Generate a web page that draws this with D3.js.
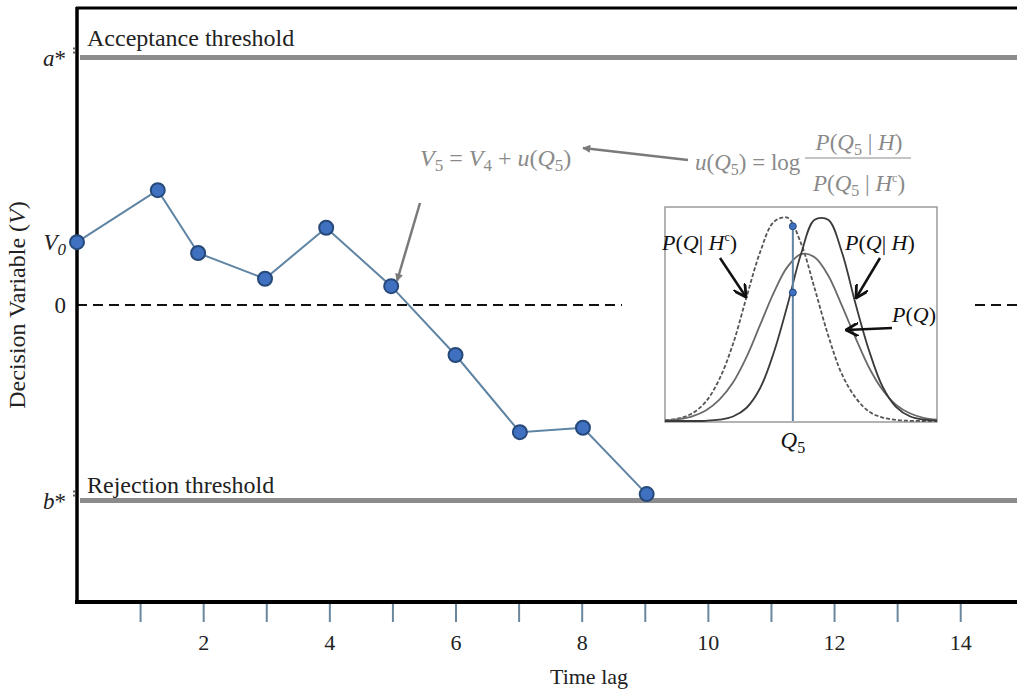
<!DOCTYPE html>
<html>
<head>
<meta charset="utf-8">
<script src="https://cdn.jsdelivr.net/npm/d3@7"></script>
<style>
  body { margin: 0; background: #fff; }
  svg text { font-family: "Liberation Serif", "DejaVu Serif", serif; }
</style>
</head>
<body>
<div id="chart"></div>
<script>
// decision variable path
var timeLag = [0, 1.28, 1.92, 2.98, 3.95, 4.98, 6.0, 7.02, 8.02, 9.03];
var decisionV = [1.27, 2.32, 1.05, 0.53, 1.56, 0.38, -1.01, -2.57, -2.48, -3.82];
var aStar = 5.0;
var bStar = -3.95;
var v0 = 1.27;
var xTicks = [1, 2, 3, 4, 5, 6, 7, 8, 9, 10, 11, 12, 13, 14];

// inset densities
var qGrid = [0, 0.5, 1, 1.5, 2, 2.5, 3, 3.5, 4, 4.5, 5, 5.5, 6, 6.5, 7, 7.5, 8, 8.5, 9, 9.5, 10];
var pQHc = [0.004, 0.012, 0.036, 0.09, 0.196, 0.36, 0.58, 0.79, 0.93, 0.95, 0.83, 0.62, 0.40, 0.22, 0.11, 0.044, 0.016, 0.005, 0.001, 0, 0];
var pQH = [0, 0, 0, 0.001, 0.006, 0.021, 0.062, 0.154, 0.32, 0.54, 0.78, 0.94, 0.94, 0.79, 0.55, 0.33, 0.16, 0.065, 0.022, 0.006, 0.002];
var pQ = [0.003, 0.009, 0.022, 0.049, 0.10, 0.18, 0.30, 0.45, 0.60, 0.72, 0.78, 0.765, 0.68, 0.54, 0.39, 0.25, 0.145, 0.075, 0.036, 0.015, 0.006];
var q5 = 4.7;
var q5Dots = [0.91, 0.60];

var W = 1017, H = 690;
var svg = d3.select("#chart").append("svg")
  .attr("width", W)
  .attr("height", H);

var defs = svg.append("defs");
defs.append("marker")
  .attr("id", "greyhead")
  .attr("viewBox", "0 0 10 10")
  .attr("refX", 9).attr("refY", 5)
  .attr("markerWidth", 10).attr("markerHeight", 8)
  .attr("markerUnits", "userSpaceOnUse")
  .attr("orient", "auto")
  .append("path").attr("d", "M0,0 L10,5 L0,10 Z").attr("fill", "#7a7a7a");
defs.append("marker")
  .attr("id", "openhead")
  .attr("viewBox", "0 0 10 10")
  .attr("refX", 9).attr("refY", 5)
  .attr("markerWidth", 14).attr("markerHeight", 14)
  .attr("markerUnits", "userSpaceOnUse")
  .attr("orient", "auto")
  .append("path").attr("d", "M0,0 L9,5 L0,10").attr("fill", "none")
  .attr("stroke", "#111").attr("stroke-width", 2);

var x = d3.scaleLinear().domain([0, 14.9]).range([77, 1017]);
var y = d3.scaleLinear().domain([-6, 6]).range([602, 8]);

// threshold lines
[aStar, bStar].forEach(function(v) {
  svg.append("line")
    .attr("x1", 80).attr("x2", W)
    .attr("y1", y(v)).attr("y2", y(v))
    .attr("stroke", "#8c8c8c").attr("stroke-width", 5);
});
svg.append("text").attr("x", 87).attr("y", y(aStar) - 12)
  .attr("font-size", 24).attr("fill", "#222").text("Acceptance threshold");
svg.append("text").attr("x", 87).attr("y", y(bStar) - 8)
  .attr("font-size", 24).attr("fill", "#222").text("Rejection threshold");

// zero line (dashed), broken by inset area
svg.append("line")
  .attr("x1", x(0)).attr("x2", 622)
  .attr("y1", y(0)).attr("y2", y(0))
  .attr("stroke", "#111").attr("stroke-width", 2)
  .attr("stroke-dasharray", "10,6");
svg.append("line")
  .attr("x1", 975).attr("x2", W)
  .attr("y1", y(0)).attr("y2", y(0))
  .attr("stroke", "#111").attr("stroke-width", 2)
  .attr("stroke-dasharray", "10,6");

// axes frame
svg.append("line").attr("x1", 77).attr("x2", 77).attr("y1", 7).attr("y2", 604)
  .attr("stroke", "#000").attr("stroke-width", 3.5);
svg.append("line").attr("x1", 76).attr("x2", W).attr("y1", 8).attr("y2", 8)
  .attr("stroke", "#000").attr("stroke-width", 3);
svg.append("line").attr("x1", 75).attr("x2", W).attr("y1", 602).attr("y2", 602)
  .attr("stroke", "#000").attr("stroke-width", 4);

// x axis ticks
var xAxis = d3.axisBottom(x)
  .tickValues(xTicks)
  .tickSize(18)
  .tickPadding(12)
  .tickFormat(function(d) { return d % 2 === 0 ? d : ""; });
var gx = svg.append("g").attr("transform", "translate(0,604)").call(xAxis);
gx.select(".domain").remove();
gx.selectAll(".tick line").attr("stroke", "#6a879e").attr("stroke-width", 2);
gx.selectAll(".tick text").attr("font-size", 22).attr("fill", "#222")
  .attr("font-family", "Liberation Serif, serif");

svg.append("text").attr("x", 589).attr("y", 684).attr("text-anchor", "middle")
  .attr("font-size", 22).attr("fill", "#222").text("Time lag");

// y label
var yl = svg.append("text")
  .attr("transform", "translate(25,305) rotate(-90)")
  .attr("text-anchor", "middle").attr("font-size", 24).attr("fill", "#222");
yl.append("tspan").text("Decision Variable (");
yl.append("tspan").attr("font-style", "italic").text("V");
yl.append("tspan").text(")");

// y tick labels
function yLab(v, parts) {
  var t = svg.append("text").attr("x", 66).attr("y", y(v) + 8)
    .attr("text-anchor", "end").attr("font-size", 23).attr("fill", "#222");
  parts.forEach(function(p) {
    var s = t.append("tspan").text(p.t);
    if (p.i) s.attr("font-style", "italic");
    if (p.sub) s.attr("font-size", 17).attr("dy", 5);
  });
}
yLab(aStar, [{t: "a", i: true}, {t: "*"}]);
yLab(v0, [{t: "V", i: true}, {t: "0", i: true, sub: true}]);
yLab(0, [{t: "0"}]);
yLab(bStar, [{t: "b", i: true}, {t: "*"}]);
[aStar, bStar].forEach(function(v) {
  svg.append("line").attr("x1", 74).attr("x2", 74).attr("y1", y(v) - 10).attr("y2", y(v) - 2)
    .attr("stroke", "#333").attr("stroke-width", 1.5).attr("stroke-dasharray", "2,2");
});

// path of decision variable
var pts = timeLag.map(function(t, i) { return [t, decisionV[i]]; });
svg.append("path")
  .datum(pts)
  .attr("fill", "none")
  .attr("stroke", "#5f84a3")
  .attr("stroke-width", 2)
  .attr("d", d3.line().x(function(d) { return x(d[0]); }).y(function(d) { return y(d[1]); }));
svg.selectAll("circle.pt").data(pts).enter().append("circle")
  .attr("class", "pt")
  .attr("cx", function(d) { return x(d[0]); })
  .attr("cy", function(d) { return y(d[1]); })
  .attr("r", 7)
  .attr("fill", "#3f71c0")
  .attr("stroke", "#26497a")
  .attr("stroke-width", 2);

// formulas
var grey = "#8a8a8a";
var f1 = svg.append("text").attr("x", 420).attr("y", 166).attr("font-size", 24).attr("fill", grey);
f1.append("tspan").attr("font-style", "italic").text("V");
f1.append("tspan").attr("font-size", 17).attr("dy", 5).text("5");
f1.append("tspan").attr("dy", -5).text(" = ");
f1.append("tspan").attr("font-style", "italic").text("V");
f1.append("tspan").attr("font-size", 17).attr("dy", 5).text("4");
f1.append("tspan").attr("dy", -5).text(" + ");
f1.append("tspan").attr("font-style", "italic").text("u");
f1.append("tspan").text("(");
f1.append("tspan").attr("font-style", "italic").text("Q");
f1.append("tspan").attr("font-size", 17).attr("dy", 5).text("5");
f1.append("tspan").attr("dy", -5).text(")");

var f2 = svg.append("text").attr("x", 695).attr("y", 170).attr("font-size", 23).attr("fill", grey);
f2.append("tspan").attr("font-style", "italic").text("u");
f2.append("tspan").text("(");
f2.append("tspan").attr("font-style", "italic").text("Q");
f2.append("tspan").attr("font-size", 16).attr("dy", 5).text("5");
f2.append("tspan").attr("dy", -5).text(") = log");

function probText(xc, yb, hc) {
  var t = svg.append("text").attr("x", xc).attr("y", yb).attr("text-anchor", "middle")
    .attr("font-size", 23).attr("fill", grey);
  t.append("tspan").attr("font-style", "italic").text("P");
  t.append("tspan").text("(");
  t.append("tspan").attr("font-style", "italic").text("Q");
  t.append("tspan").attr("font-size", 16).attr("dy", 5).text("5");
  t.append("tspan").attr("dy", -5).text(" | ");
  t.append("tspan").attr("font-style", "italic").text("H");
  if (hc) t.append("tspan").attr("font-size", 12).attr("dy", -9).text("c");
  t.append("tspan").attr("dy", hc ? 9 : 0).text(")");
}
probText(859, 150, false);
probText(859, 191, true);
svg.append("line").attr("x1", 805).attr("x2", 911).attr("y1", 158).attr("y2", 158)
  .attr("stroke", grey).attr("stroke-width", 1.2);

svg.append("line").attr("x1", 688).attr("y1", 160).attr("x2", 583).attr("y2", 148)
  .attr("stroke", "#7a7a7a").attr("stroke-width", 2.5).attr("marker-end", "url(#greyhead)");
svg.append("line").attr("x1", 420).attr("y1", 203).attr("x2", 397).attr("y2", 281)
  .attr("stroke", "#7a7a7a").attr("stroke-width", 2.5).attr("marker-end", "url(#greyhead)");

// inset
var qx = d3.scaleLinear().domain([0, 10]).range([665, 937]);
var qy = d3.scaleLinear().domain([0, 1]).range([421, 207]);
var inset = svg.append("g");
inset.append("rect").attr("x", 665).attr("y", 207).attr("width", 272).attr("height", 215)
  .attr("fill", "#fff").attr("stroke", "#9a9a9a").attr("stroke-width", 1.5);

function curve(vals) {
  return d3.line()
    .x(function(d, i) { return qx(qGrid[i]); })
    .y(function(d) { return qy(d); })
    .curve(d3.curveCatmullRom.alpha(0.5))(vals);
}
inset.append("path").attr("d", curve(pQHc)).attr("fill", "none")
  .attr("stroke", "#555").attr("stroke-width", 1.8).attr("stroke-dasharray", "4,2");
inset.append("path").attr("d", curve(pQ)).attr("fill", "none")
  .attr("stroke", "#6a6a6a").attr("stroke-width", 1.8);
inset.append("path").attr("d", curve(pQH)).attr("fill", "none")
  .attr("stroke", "#3a3a3a").attr("stroke-width", 1.8);

inset.append("line").attr("x1", qx(q5)).attr("x2", qx(q5))
  .attr("y1", qy(q5Dots[0])).attr("y2", qy(0))
  .attr("stroke", "#5f84a3").attr("stroke-width", 2);
inset.selectAll("circle.qd").data(q5Dots).enter().append("circle")
  .attr("class", "qd")
  .attr("cx", qx(q5)).attr("cy", function(d) { return qy(d); })
  .attr("r", 3.5).attr("fill", "#3f71c0").attr("stroke", "#26497a");

var q5t = svg.append("text").attr("x", qx(q5)).attr("y", 448).attr("text-anchor", "middle")
  .attr("font-size", 23).attr("fill", "#111");
q5t.append("tspan").attr("font-style", "italic").text("Q");
q5t.append("tspan").attr("font-size", 16).attr("dy", 5).text("5");

function pLabel(xs, yb, hpart) {
  var t = svg.append("text").attr("x", xs).attr("y", yb).attr("font-size", 22).attr("fill", "#111");
  t.append("tspan").attr("font-style", "italic").text("P");
  t.append("tspan").text("(");
  t.append("tspan").attr("font-style", "italic").text("Q");
  if (hpart) {
    t.append("tspan").text("| ");
    t.append("tspan").attr("font-style", "italic").text("H");
    if (hpart === "c") t.append("tspan").attr("font-size", 12).attr("dy", -9).text("c");
    t.append("tspan").attr("dy", hpart === "c" ? 9 : 0).text(")");
  } else {
    t.append("tspan").text(")");
  }
}
pLabel(662, 250, "c");
pLabel(845, 250, "h");
pLabel(892, 322, null);

svg.append("line").attr("x1", 720).attr("y1", 258).attr("x2", 746).attr("y2", 297)
  .attr("stroke", "#111").attr("stroke-width", 2.5).attr("marker-end", "url(#openhead)");
svg.append("line").attr("x1", 880).attr("y1", 258).attr("x2", 856).attr("y2", 298)
  .attr("stroke", "#111").attr("stroke-width", 2.5).attr("marker-end", "url(#openhead)");
svg.append("line").attr("x1", 892).attr("y1", 328).attr("x2", 846).attr("y2", 330)
  .attr("stroke", "#111").attr("stroke-width", 2.5).attr("marker-end", "url(#openhead)");
</script>
</body>
</html>
